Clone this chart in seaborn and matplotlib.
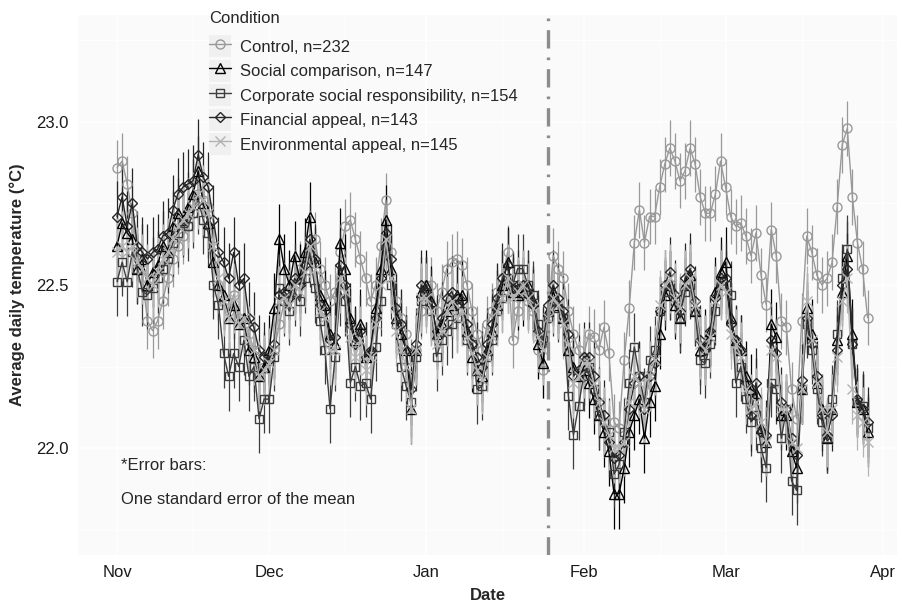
import numpy as np
import pandas as pd
import matplotlib
matplotlib.use("Agg")
import matplotlib.pyplot as plt
import matplotlib.dates as mdates
from matplotlib.lines import Line2D
from matplotlib.patches import Rectangle
from matplotlib.legend_handler import HandlerTuple
import seaborn as sns

# ---- data ----
dates = pd.date_range("2014-11-01", "2015-03-29", freq="D")
intervention_date = pd.Timestamp("2015-01-25")

conditions = ["Control", "Social comparison", "Corporate social responsibility",
              "Financial appeal", "Environmental appeal"]
group_n = [232, 147, 154, 143, 145]
std_err = [0.085, 0.107, 0.105, 0.108, 0.107]

control = [
    22.86, 22.88, 22.81, 22.72, 22.60, 22.52, 22.39, 22.36, 22.39, 22.45,
    22.52, 22.58, 22.62, 22.65, 22.68, 22.72, 22.78, 22.76, 22.74, 22.62,
    22.50, 22.45, 22.42, 22.47, 22.40, 22.38, 22.35, 22.30, 22.22, 22.25,
    22.28, 22.30, 22.38, 22.45, 22.48, 22.50, 22.55, 22.58, 22.62, 22.64,
    22.55, 22.50, 22.45, 22.48, 22.60, 22.68, 22.70, 22.64, 22.58, 22.52,
    22.45, 22.50, 22.62, 22.76, 22.60, 22.45, 22.40, 22.35, 22.25, 22.30,
    22.42, 22.50, 22.50, 22.42, 22.48, 22.55, 22.57, 22.58, 22.56, 22.50,
    22.42, 22.35, 22.30, 22.38, 22.42, 22.48, 22.52, 22.60, 22.33, 22.42,
    22.48, 22.45, 22.42, 22.30, 22.24, 22.40, 22.59, 22.55, 22.52, 22.42,
    22.35, 22.30, 22.28, 22.35, 22.34, 22.30, 22.37, 22.29, 22.08, 22.06,
    22.27, 22.43, 22.63, 22.73, 22.63, 22.71, 22.71, 22.80, 22.87, 22.92,
    22.88, 22.82, 22.85, 22.92, 22.87, 22.77, 22.72, 22.72, 22.78, 22.88,
    22.80, 22.71, 22.68, 22.69, 22.65, 22.59, 22.66, 22.53, 22.44, 22.67,
    22.59, 22.39, 22.37, 22.18, 22.09, 22.39, 22.65, 22.60, 22.53, 22.50,
    22.52, 22.57, 22.74, 22.93, 22.98, 22.77, 22.63, 22.55, 22.40,
]

social = [
    22.62, 22.69, 22.66, 22.64, 22.55, 22.58, 22.50, 22.54, 22.56, 22.62,
    22.60, 22.68, 22.72, 22.70, 22.74, 22.78, 22.85, 22.75, 22.69, 22.57,
    22.50, 22.47, 22.40, 22.44, 22.38, 22.40, 22.30, 22.28, 22.22, 22.25,
    22.30, 22.43, 22.64, 22.55, 22.50, 22.59, 22.52, 22.60, 22.71, 22.57,
    22.47, 22.44, 22.35, 22.32, 22.63, 22.55, 22.40, 22.33, 22.38, 22.28,
    22.30, 22.43, 22.55, 22.70, 22.55, 22.40, 22.35, 22.30, 22.12, 22.30,
    22.48, 22.50, 22.45, 22.35, 22.38, 22.42, 22.44, 22.47, 22.47, 22.36,
    22.28, 22.24, 22.22, 22.30, 22.36, 22.44, 22.50, 22.57, 22.48, 22.47,
    22.48, 22.50, 22.45, 22.32, 22.26, 22.42, 22.48, 22.44, 22.40, 22.30,
    22.25, 22.22, 22.24, 22.20, 22.15, 22.10, 22.05, 21.99, 21.86, 21.86,
    21.94, 22.05, 22.10, 22.15, 22.03, 22.14, 22.19, 22.35, 22.47, 22.50,
    22.44, 22.40, 22.50, 22.53, 22.42, 22.30, 22.32, 22.36, 22.48, 22.54,
    22.57, 22.40, 22.33, 22.30, 22.22, 22.18, 22.17, 22.06, 22.02, 22.38,
    22.34, 22.10, 22.10, 21.99, 21.94, 22.18, 22.43, 22.35, 22.20, 22.12,
    22.03, 22.12, 22.33, 22.48, 22.59, 22.35, 22.14, 22.12, 22.05,
]

csr = [
    22.51, 22.57, 22.51, 22.60, 22.55, 22.48, 22.47, 22.49, 22.52, 22.55,
    22.58, 22.63, 22.66, 22.69, 22.68, 22.72, 22.76, 22.70, 22.66, 22.50,
    22.44, 22.29, 22.22, 22.29, 22.25, 22.33, 22.22, 22.25, 22.09, 22.15,
    22.15, 22.28, 22.49, 22.45, 22.42, 22.48, 22.45, 22.52, 22.60, 22.49,
    22.39, 22.30, 22.12, 22.28, 22.48, 22.45, 22.20, 22.25, 22.19, 22.20,
    22.15, 22.31, 22.45, 22.62, 22.50, 22.38, 22.25, 22.19, 22.14, 22.28,
    22.45, 22.48, 22.42, 22.28, 22.33, 22.36, 22.38, 22.40, 22.42, 22.33,
    22.32, 22.18, 22.19, 22.28, 22.33, 22.42, 22.46, 22.52, 22.50, 22.55,
    22.55, 22.50, 22.47, 22.38, 22.33, 22.40, 22.45, 22.43, 22.40, 22.16,
    22.04, 22.13, 22.22, 22.25, 22.18, 22.10, 22.08, 22.05, 21.92, 21.95,
    22.05, 22.20, 22.31, 22.22, 22.14, 22.27, 22.30, 22.42, 22.48, 22.50,
    22.45, 22.40, 22.48, 22.50, 22.42, 22.27, 22.26, 22.32, 22.42, 22.50,
    22.50, 22.47, 22.20, 22.25, 22.15, 22.08, 22.10, 22.00, 21.94, 22.20,
    22.18, 22.03, 22.12, 21.90, 21.87, 22.18, 22.38, 22.30, 22.18, 22.08,
    22.03, 22.15, 22.35, 22.52, 22.61, 22.32, 22.14, 22.13, 22.06,
]

financial = [
    22.71, 22.77, 22.68, 22.75, 22.62, 22.60, 22.58, 22.60, 22.61, 22.65,
    22.66, 22.73, 22.78, 22.80, 22.81, 22.82, 22.90, 22.83, 22.80, 22.70,
    22.60, 22.57, 22.52, 22.60, 22.50, 22.52, 22.40, 22.37, 22.30, 22.28,
    22.27, 22.32, 22.47, 22.48, 22.46, 22.52, 22.50, 22.56, 22.64, 22.58,
    22.44, 22.42, 22.33, 22.34, 22.56, 22.50, 22.38, 22.32, 22.36, 22.28,
    22.30, 22.40, 22.52, 22.66, 22.58, 22.43, 22.38, 22.30, 22.18, 22.32,
    22.50, 22.48, 22.44, 22.36, 22.40, 22.46, 22.48, 22.44, 22.45, 22.38,
    22.32, 22.28, 22.25, 22.32, 22.38, 22.46, 22.52, 22.56, 22.49, 22.50,
    22.50, 22.47, 22.44, 22.36, 22.32, 22.44, 22.50, 22.46, 22.42, 22.35,
    22.22, 22.24, 22.28, 22.28, 22.22, 22.14, 22.10, 22.02, 21.97, 21.98,
    22.02, 22.12, 22.20, 22.22, 22.12, 22.22, 22.26, 22.42, 22.50, 22.54,
    22.47, 22.42, 22.52, 22.55, 22.45, 22.33, 22.30, 22.36, 22.46, 22.52,
    22.52, 22.38, 22.33, 22.30, 22.20, 22.10, 22.20, 22.05, 22.04, 22.33,
    22.29, 22.14, 22.12, 22.03, 21.98, 22.21, 22.40, 22.32, 22.22, 22.10,
    22.04, 22.10, 22.30, 22.50, 22.55, 22.32, 22.15, 22.12, 22.08,
]

environmental = [
    22.60, 22.62, 22.60, 22.62, 22.57, 22.55, 22.52, 22.50, 22.54, 22.58,
    22.60, 22.64, 22.68, 22.70, 22.72, 22.74, 22.78, 22.76, 22.72, 22.62,
    22.52, 22.45, 22.40, 22.46, 22.38, 22.40, 22.33, 22.30, 22.22, 22.24,
    22.26, 22.30, 22.45, 22.46, 22.44, 22.50, 22.48, 22.54, 22.62, 22.55,
    22.42, 22.40, 22.30, 22.30, 22.52, 22.48, 22.34, 22.28, 22.33, 22.24,
    22.28, 22.38, 22.50, 22.64, 22.52, 22.36, 22.30, 22.25, 22.12, 22.30,
    22.46, 22.46, 22.42, 22.32, 22.36, 22.42, 22.45, 22.40, 22.42, 22.34,
    22.29, 22.24, 22.21, 22.28, 22.34, 22.42, 22.46, 22.52, 22.46, 22.48,
    22.50, 22.46, 22.43, 22.34, 22.30, 22.40, 22.46, 22.44, 22.38, 22.32,
    22.20, 22.22, 22.26, 22.26, 22.20, 22.14, 22.08, 22.04, 22.00, 22.00,
    22.02, 22.14, 22.22, 22.20, 22.12, 22.22, 22.27, 22.44, 22.50, 22.52,
    22.46, 22.43, 22.50, 22.52, 22.44, 22.32, 22.30, 22.34, 22.45, 22.50,
    22.48, 22.35, 22.32, 22.28, 22.18, 22.12, 22.14, 22.08, 22.02, 22.30,
    22.28, 22.12, 22.12, 22.02, 22.00, 22.18, 22.45, 22.33, 22.20, 22.12,
    22.05, 22.12, 22.28, 22.45, 22.52, 22.18, 22.10, 22.08, 22.02,
]

series = [control, social, csr, financial, environmental]

# ---- long table ----
frames = []
for cond, n, se, vals in zip(conditions, group_n, std_err, series):
    frames.append(pd.DataFrame({
        "Date": dates,
        "temp": vals,
        "se": se,
        "Condition": f"{cond}, n={n}",
    }))
df = pd.concat(frames, ignore_index=True)
df["lo"] = df["temp"] - df["se"]
df["hi"] = df["temp"] + df["se"]

# ---- style ----
colors = ["#999999", "#000000", "#3d3d3d", "#262626", "#b3b3b3"]
markers = ["o", "^", "s", "D", "x"]
msizes = [6.5, 7.5, 6.0, 5.5, 6.5]

sns.set_style("white")
plt.rcParams["font.family"] = ["Liberation Sans", "DejaVu Sans"]

fig = plt.figure(figsize=(8.97, 6.04), dpi=100)
ax = fig.add_axes([78 / 897, 1 - 555 / 604, 1 - 78 / 897, (555 - 15) / 604])
ax.set_facecolor("#fafafa")

labels = df["Condition"].unique()
handles = []
for lab, c, m, ms in zip(labels, colors, markers, msizes):
    sub = df[df["Condition"] == lab]
    ax.vlines(sub["Date"], sub["lo"], sub["hi"], color=c, lw=0.9, zorder=2)
    sns.lineplot(data=sub, x="Date", y="temp", ax=ax, color=c, lw=1.0,
                 marker=m, markersize=ms, markerfacecolor="none",
                 markeredgecolor=c, markeredgewidth=1.0, errorbar=None,
                 zorder=3)
    key = Line2D([], [], color=c, lw=1.0, marker=m, markersize=ms,
                 markerfacecolor="none", markeredgecolor=c, markeredgewidth=1.0)
    bg = Rectangle((0, 0), 1, 1, facecolor="#f0f0f0", edgecolor="none")
    handles.append((bg, key))

ax.axvline(intervention_date, color="#8c8c8c", lw=2.4,
           linestyle=(0, (5.5, 2.7, 0.8, 2.7)), zorder=4)

# axes
ax.set_xlim(dates[0] - pd.Timedelta(days=7.7), dates[0] + pd.Timedelta(days=153.8))
ax.set_ylim(21.672, 23.328)
ax.xaxis.set_major_locator(mdates.MonthLocator())
ax.xaxis.set_major_formatter(mdates.DateFormatter("%b"))
ax.xaxis.set_minor_locator(mdates.MonthLocator(bymonthday=16))
ax.set_yticks([22.0, 22.5, 23.0])
ax.set_yticks([21.75, 22.25, 22.75, 23.25], minor=True)
ax.grid(which="major", color="white", lw=1.1)
ax.grid(which="minor", color="white", lw=0.6)
for s in ax.spines.values():
    s.set_visible(False)
ax.tick_params(axis="both", which="major", length=4, width=0.8, color="#333333",
               labelsize=12, labelcolor="#1a1a1a", pad=3)
ax.tick_params(which="minor", length=0)
ax.set_xlabel("Date", fontsize=12, fontweight="bold", labelpad=6)
ax.set_ylabel("Average daily temperature (°C)", fontsize=12, fontweight="bold", labelpad=8)

ax.text(0.052, 0.165, "*Error bars:", transform=ax.transAxes, fontsize=12, va="center")
ax.text(0.052, 0.102, "One standard error of the mean", transform=ax.transAxes,
        fontsize=12, va="center")

leg = fig.legend(handles, labels, handler_map={tuple: HandlerTuple(ndivide=1, pad=0)},
                 loc="upper left", bbox_to_anchor=(197 / 897, 1 + 1 / 604),
                 frameon=False, fontsize=12, title="Condition", title_fontsize=12,
                 alignment="left", handlelength=1.32, handleheight=1.65,
                 labelspacing=0.15, handletextpad=0.55, borderpad=0.2)
# a bit more room between the legend title and the keys
leg._legend_box.sep = 7

fig.savefig("out.png", dpi=100)
